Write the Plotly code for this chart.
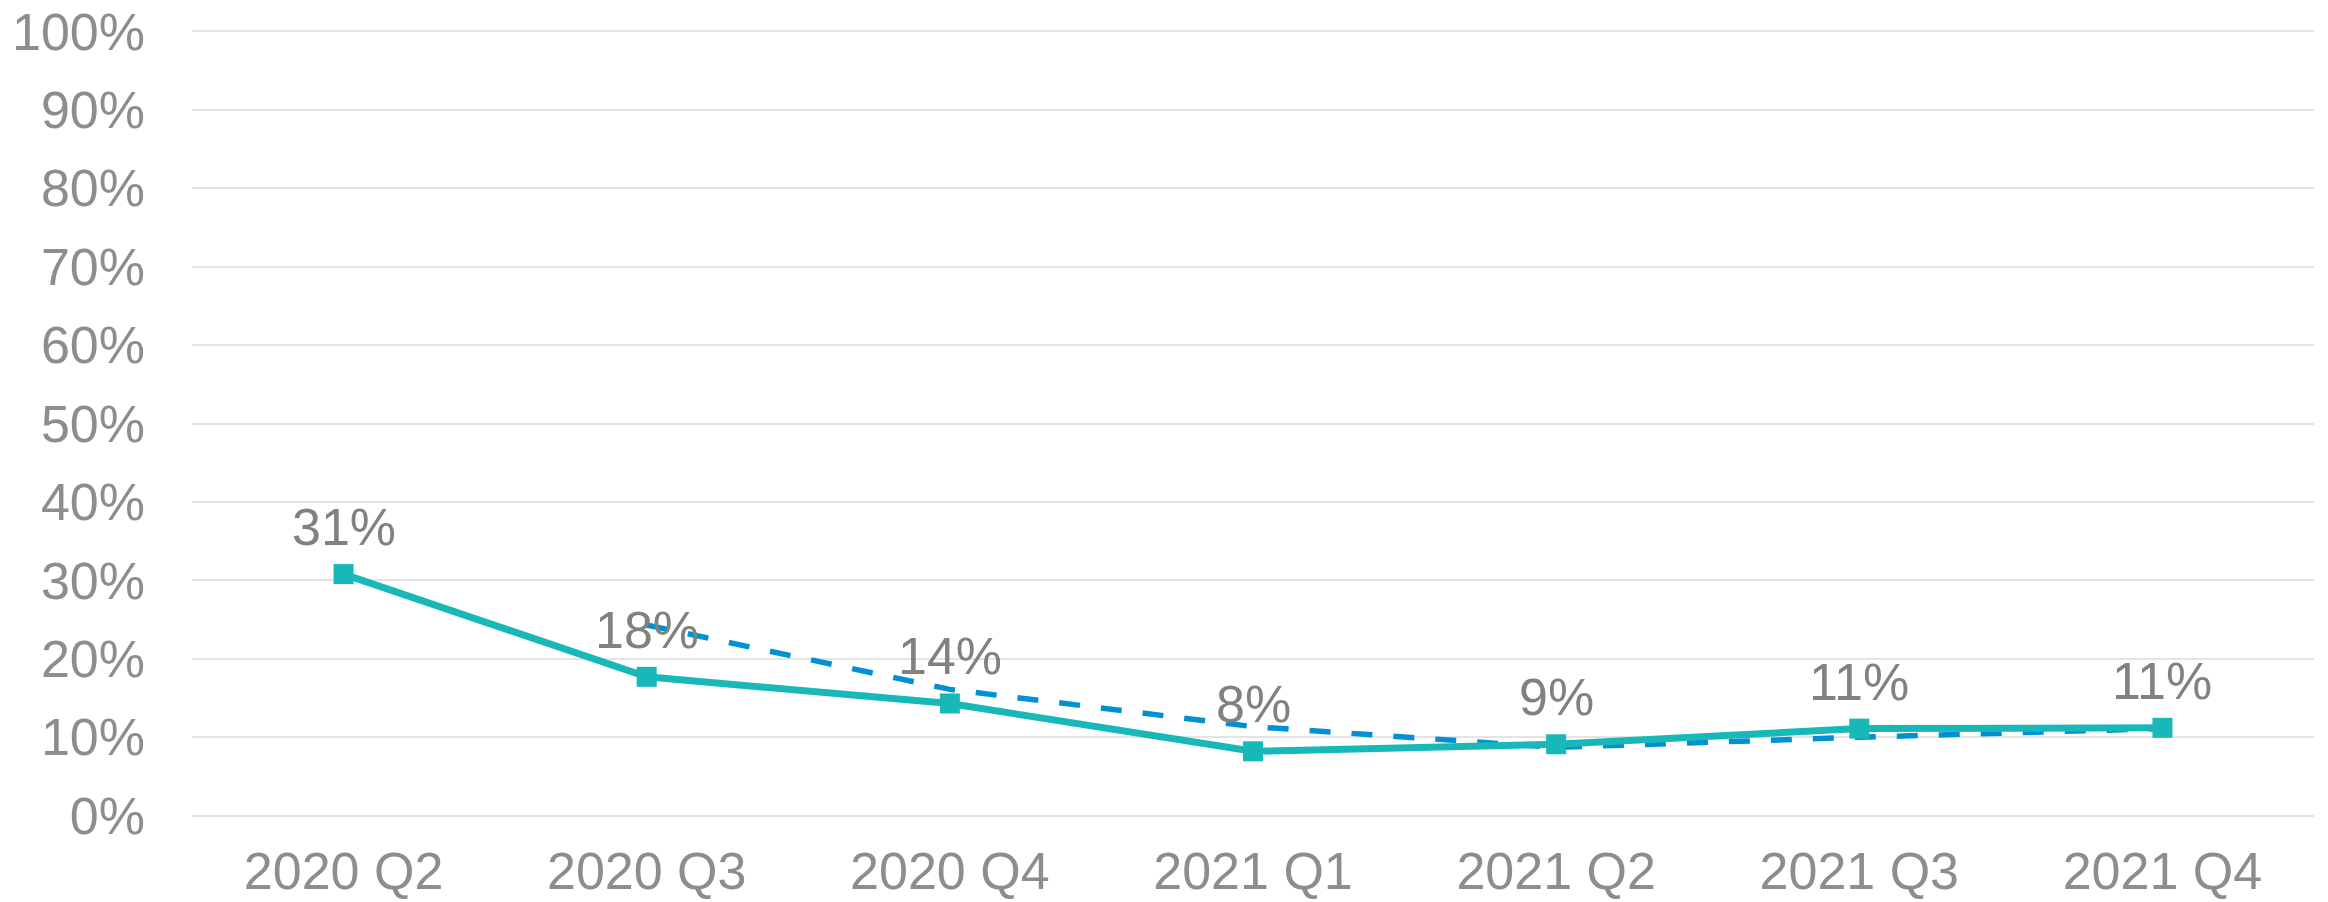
import plotly.graph_objects as go

categories = ["2020 Q2", "2020 Q3", "2020 Q4", "2021 Q1", "2021 Q2", "2021 Q3", "2021 Q4"]
solid_values = [30.8, 17.7, 14.3, 8.2, 9.1, 11.1, 11.2]
dashed_values = [None, 24.3, 16.1, 11.35, 8.7, 10.0, 11.1]
label_texts = ["31%", "18%", "14%", "8%", "9%", "11%", "11%"]
y_ticks = [0, 10, 20, 30, 40, 50, 60, 70, 80, 90, 100]
y_tick_labels = [f"{v}%" for v in y_ticks]

FONT = "Liberation Sans, Arial, sans-serif"
TEAL = "#19B8B8"
BLUE = "#0091D5"
TICK_GRAY = "#8B8F8A"
LABEL_GRAY = "#7F827E"

fig = go.Figure()

fig.add_trace(go.Scatter(
    x=categories, y=[v / 100 if v is not None else None for v in dashed_values],
    mode="lines",
    line=dict(color=BLUE, width=5.5, dash="21px,21px"),
    hoverinfo="skip", showlegend=False, cliponaxis=False,
))

fig.add_trace(go.Scatter(
    x=categories, y=[v / 100 for v in solid_values],
    mode="lines+markers",
    line=dict(color=TEAL, width=7),
    marker=dict(symbol="square", size=20, color=TEAL),
    showlegend=False, cliponaxis=False,
))

for cat, val, txt in zip(categories, solid_values, label_texts):
    fig.add_annotation(
        x=cat, y=val / 100, text=txt, showarrow=False,
        xanchor="center", yanchor="bottom", yshift=16,
        font=dict(family=FONT, size=52, color=LABEL_GRAY),
    )

fig.update_layout(
    width=2328, height=902,
    margin=dict(l=192, r=14, t=29, b=84, autoexpand=False),
    paper_bgcolor="white", plot_bgcolor="white",
    font=dict(family=FONT, size=52, color=TICK_GRAY),
    showlegend=False,
)

fig.update_xaxes(
    type="category", range=[-0.5, 6.5], automargin=False,
    showgrid=False, showline=False, zeroline=False,
    tickfont=dict(family=FONT, size=52, color=TICK_GRAY),
    ticks="", ticklabelstandoff=18,
)

fig.update_yaxes(
    range=[-0.003, 1.003], automargin=False,
    tickvals=[v / 100 for v in y_ticks], ticktext=y_tick_labels,
    showgrid=True, gridcolor="#E4E4E4", gridwidth=2,
    zeroline=False, showline=False,
    tickfont=dict(family=FONT, size=52, color=TICK_GRAY),
    ticks="", ticklabelstandoff=46,
)

fig.write_html(
    "out.html",
    config={"displayModeBar": False},
    post_script="document.body.style.margin='0';document.body.style.overflow='hidden';",
)
